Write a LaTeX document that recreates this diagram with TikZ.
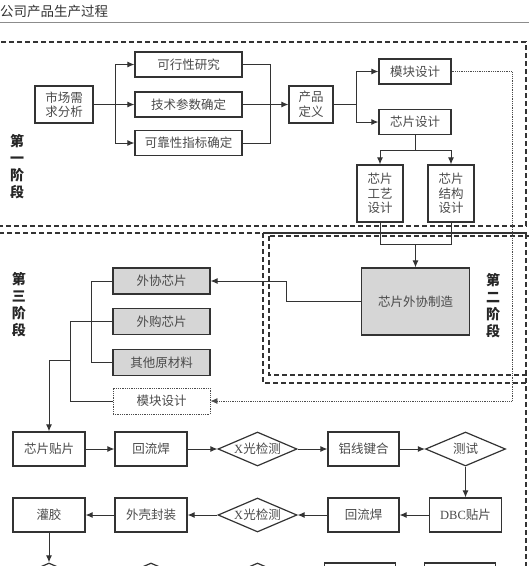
\documentclass[tikz,border=0pt]{standalone}
\usepackage{fontspec}
\setmainfont{Noto Sans CJK SC}
\newfontfamily\latinfont{Liberation Serif}
\usepackage{xcolor}
\usetikzlibrary{arrows.meta,positioning,calc,shapes.geometric}

\definecolor{linegray}{HTML}{333333}
\definecolor{txtgray}{HTML}{4A4A4A}
\definecolor{fillgray}{HTML}{D6D6D6}

\tikzset{
  procbox/.style={draw=linegray,line width=1.2pt,text=txtgray,inner sep=1pt,align=center,
    font=\fontsize{12.5}{14.5}\selectfont},
  shadebox/.style={procbox,fill=fillgray},
  dotbox/.style={procbox,draw=black!70,line width=0.8pt,densely dotted},
  checkbox/.style={procbox,shape=diamond,aspect=2.3,inner sep=0pt,minimum width=79,minimum height=34},
  flow/.style={draw=linegray,line width=1pt},
  arr/.style={flow,-{Latex[length=7pt,width=6pt]}},
  dotarr/.style={draw=black!70,line width=0.8pt,densely dotted,-{Latex[length=7pt,width=6pt]}},
  stagebox/.style={draw=linegray,line width=1.1pt,dash pattern=on 5pt off 3pt},
  stagelabel/.style={text=black!85,align=center,font=\fontsize{14}{17}\bfseries\selectfont}
}

\begin{document}
\begin{tikzpicture}[x=1pt,y=-1pt]
\useasboundingbox (0,0) rectangle (529,566);
\clip (0,0) rectangle (529,566);
% title line
\node[anchor=west,inner sep=0pt,text=black!80,font=\fontsize{13.5}{15}\selectfont] (title) at (0,11) {公司产品生产过程};
\draw[black!45,line width=0.8pt] (0,22) -- (529,22);

% stage frames
\draw[stagebox] (-10,42) rectangle (526,226);
\draw[stagebox] (-10,233) rectangle (526,620);
\draw[stagebox] (263,233) rectangle (545,383);
\draw[stagebox] (269,236) rectangle (545,375);

\node[stagelabel] (stageA) at (17,167) {第\\一\\阶\\段};
\node[stagelabel] (stageC) at (19,305) {第\\三\\阶\\段};
\node[stagelabel] (stageB) at (493,306) {第\\二\\阶\\段};

% stage 1
\node[procbox,minimum width=58,minimum height=37] (mkt) at (64,104.5) {市场需\\求分析};
\node[procbox,minimum width=107,minimum height=25] (feas) at (188.5,64.5) {可行性研究};
\node[procbox,minimum width=107,minimum height=25] (tech) at (188.5,104.5) {技术参数确定};
\node[procbox,minimum width=107,minimum height=25] (rel) at (188.5,143) {可靠性指标确定};
\node[procbox,minimum width=44,minimum height=37] (prod) at (311,104.5) {产品\\定义};
\node[procbox,minimum width=72,minimum height=25] (modA) at (415,71.5) {模块设计};
\node[procbox,minimum width=72,minimum height=25] (chip) at (415,122) {芯片设计};
\node[procbox,minimum width=46,minimum height=57] (proc) at (380,193.5) {芯片\\工艺\\设计};
\node[procbox,minimum width=46,minimum height=57] (struc) at (451,193.5) {芯片\\结构\\设计};

\coordinate (splitA) at (115,104.5);
\coordinate (joinA) at (270,104.5);
\coordinate (splitB) at (356,104.5);
\coordinate (splitC) at (415,150);
\coordinate (joinB) at (415.5,244);
\draw[flow] (mkt.east) -- (splitA);
\draw[arr] (splitA) |- (feas.west);
\draw[arr] (splitA) -- (tech.west);
\draw[arr] (splitA) |- (rel.west);
\draw[flow] (feas.east) -| (joinA);
\draw[flow] (rel.east) -| (joinA);
\draw[arr] (tech.east) -- (prod.west);
\draw[flow] (prod.east) -- (splitB);
\draw[arr] (splitB) |- (modA.west);
\draw[arr] (splitB) |- (chip.west);
\draw[flow] (chip.south) -- (splitC);
\draw[arr] (splitC) -| (proc.north);
\draw[arr] (splitC) -| (struc.north);

% stage 2
\node[shadebox,minimum width=108,minimum height=67] (fab) at (415.5,301.5) {芯片外协制造};
\draw[flow] (proc.south) |- (joinB);
\draw[flow] (struc.south) |- (joinB);
\draw[arr] (joinB) -- (joinB |- fab.north);

% stage 3
\node[shadebox,minimum width=97,minimum height=26] (outc) at (161.5,281) {外协芯片};
\node[shadebox,minimum width=97,minimum height=26] (buyc) at (161.5,321.5) {外购芯片};
\node[shadebox,minimum width=97,minimum height=26] (other) at (161.5,362.5) {其他原材料};
\node[dotbox,minimum width=97,minimum height=26] (modB) at (161.5,401) {模块设计};

\coordinate (bendA) at (286,301.5);
\coordinate (dotC) at (512,401);
\coordinate (tapA) at (71,360);
\draw[arr] (fab.west) -- (bendA) |- (outc.east);
\draw[dotarr] (modA.east) -| (dotC) -- (modB.east);
\draw[flow] (outc.west) -- ++(-21,0) |- (other.west);
\draw[flow] (buyc.west) -- ++(-42,0) |- (modB.west);

\node[procbox,minimum width=72,minimum height=34] (mount) at (49,449) {芯片贴片};
\node[procbox,minimum width=72,minimum height=34] (reflowA) at (151,449) {回流焊};
\node[checkbox] (xrayA) at (257.5,449) {{\latinfont X}光检测};
\node[procbox,minimum width=71,minimum height=34] (wire) at (363.5,449) {铝线键合};
\node[checkbox,minimum width=80] (test) at (465.5,449) {测试};

\node[procbox,minimum width=72,minimum height=34] (pot) at (49,515) {灌胶};
\node[procbox,minimum width=72,minimum height=34] (shell) at (151,515) {外壳封装};
\node[checkbox] (xrayB) at (257.5,515) {{\latinfont X}光检测};
\node[procbox,minimum width=71,minimum height=34] (reflowB) at (363.5,515) {回流焊};
\node[procbox,minimum width=72,minimum height=34] (dbc) at (465.5,515) {{\latinfont DBC}贴片};

% next row, cut off by the page edge
\node[checkbox] (nextA) at (49,580) {};
\node[checkbox] (nextB) at (151,580) {};
\node[checkbox] (nextC) at (257.5,580) {};
\node[procbox,minimum width=71,minimum height=34] (nextD) at (360,580) {};
\node[procbox,minimum width=71,minimum height=34] (nextE) at (460,580) {};

\draw[arr] (tapA) -| (mount.north);
\draw[arr] (mount) -- (reflowA);
\draw[arr] (reflowA) -- (xrayA);
\draw[arr] (xrayA) -- (wire);
\draw[arr] (wire) -- (test);
\draw[arr] (test) -- (dbc);
\draw[arr] (dbc) -- (reflowB);
\draw[arr] (reflowB) -- (xrayB);
\draw[arr] (xrayB) -- (shell);
\draw[arr] (shell) -- (pot);
\draw[arr] (pot) -- (nextA);
\end{tikzpicture}
\end{document}
